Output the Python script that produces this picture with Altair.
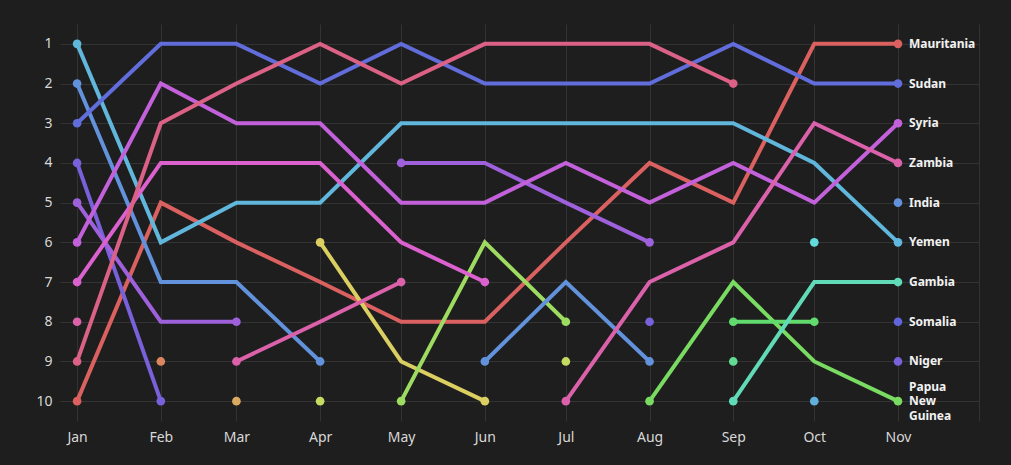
import altair as alt
import pandas as pd

N = None
months = ["2023-01-01", "2023-02-01", "2023-03-01", "2023-04-01", "2023-05-01",
          "2023-06-01", "2023-07-01", "2023-08-01", "2023-09-01", "2023-10-01",
          "2023-11-01"]
grid_months = months + ["2023-12-01"]

series_names = ["Mauritania", "Other A", "Other B", "Other C", "Other D", "Other E",
                "Papua New Guinea", "Other F", "Other G", "Gambia", "Other H",
                "Yemen", "Other I", "India", "Sudan", "Somalia", "Niger",
                "Other J", "Syria", "Other K", "Zambia", "Other L"]

ranks = {
    "Mauritania":       [10, 5, 6, 7, 8, 8, 6, 4, 5, 1, 1],
    "Other A":          [N, 9, N, N, N, N, N, N, N, N, N],
    "Other B":          [N, N, 10, N, N, N, N, N, N, N, N],
    "Other C":          [N, N, N, 6, 9, 10, N, N, N, N, N],
    "Other D":          [N, N, N, 10, N, N, 9, N, N, N, N],
    "Other E":          [N, N, N, N, 10, 6, 8, N, N, N, N],
    "Papua New Guinea": [N, N, N, N, N, N, N, 10, 7, 9, 10],
    "Other F":          [N, N, N, N, N, N, N, N, 8, 8, N],
    "Other G":          [N, N, N, N, N, N, N, N, 9, N, N],
    "Gambia":           [N, N, N, N, N, N, N, N, 10, 7, 7],
    "Other H":          [N, N, N, N, N, N, N, N, N, 6, N],
    "Yemen":            [1, 6, 5, 5, 3, 3, 3, 3, 3, 4, 6],
    "Other I":          [N, N, N, N, N, N, N, N, N, 10, N],
    "India":            [2, 7, 7, 9, N, 9, 7, 9, N, N, 5],
    "Sudan":            [3, 1, 1, 2, 1, 2, 2, 2, 1, 2, 2],
    "Somalia":          [N, N, N, N, N, N, N, N, N, N, 8],
    "Niger":            [4, 10, N, N, N, N, N, 8, N, N, 9],
    "Other J":          [5, 8, 8, N, 4, 4, 5, 6, N, N, N],
    "Syria":            [6, 2, 3, 3, 5, 5, 4, 5, 4, 5, 3],
    "Other K":          [7, 4, 4, 4, 6, 7, N, N, N, N, N],
    "Zambia":           [8, N, 9, 8, 7, N, 10, 7, 6, 3, 4],
    "Other L":          [9, 3, 2, 1, 2, 1, 1, 1, 2, N, N],
}

single_labels = ["Mauritania", "Sudan", "Syria", "Zambia", "India", "Yemen",
                 "Gambia", "Somalia", "Niger"]
wrapped_label = ("Papua New Guinea", "Papua\nNew\nGuinea")

# style: one hue per series
hues = [0, 18, 36, 54, 72, 90, 108, 126, 144, 162, 180, 198, 201, 216, 234, 238,
        252, 270, 288, 306, 324, 342]
colors = [f"hsl({h},63%,62%)" for h in hues]


def ms(s):
    return int(pd.Timestamp(s, tz="UTC").value // 10**6)


rows = []
for name in series_names:
    vals = ranks[name]
    run = 0
    for i, v in enumerate(vals):
        if v is None:
            continue
        prev_none = i == 0 or vals[i - 1] is None
        next_none = i == len(vals) - 1 or vals[i + 1] is None
        if prev_none:
            run += 1
        rows.append({"series": name, "run": f"{name}-{run}", "date": ms(months[i]),
                     "rank": v, "end": bool(prev_none or next_none)})
df = pd.DataFrame(rows)

ldf = pd.DataFrame([{"series": k, "label": k, "date": ms(months[-1]),
                     "rank": ranks[k][-1]} for k in single_labels])
wdf = pd.DataFrame([{"series": wrapped_label[0], "label": wrapped_label[1],
                     "date": ms(months[-1]), "rank": ranks[wrapped_label[0]][-1]}])

x_scale = alt.Scale(type="utc", domain=[ms("2022-12-25T16:00:00"), ms("2023-12-01")])
x_axis = alt.Axis(values=[ms(m) for m in grid_months],
                  labelExpr="utcmonth(datum.value) == 11 ? '' : utcFormat(datum.value, '%b')",
                  title=None, domain=False, ticks=False, labelPadding=9,
                  labelFontSize=14, labelColor="#d8d8d8", gridColor="#333333",
                  labelFont="Noto Sans")
y_scale = alt.Scale(domain=[0.5, 10.5], reverse=True, zero=False, nice=False)
y_axis = alt.Axis(values=list(range(1, 11)), title=None, domain=False, ticks=False,
                  labelPadding=8, labelFontSize=14, labelColor="#d8d8d8",
                  gridColor="#333333", labelFont="Noto Sans", format="d")
color = alt.Color("series:N", scale=alt.Scale(domain=series_names, range=colors),
                  legend=None)

base = alt.Chart(df)
lines = base.mark_line(strokeWidth=4, clip=True).encode(
    x=alt.X("date:T", scale=x_scale, axis=x_axis),
    y=alt.Y("rank:Q", scale=y_scale, axis=y_axis),
    color=color,
    detail="run:N",
)
points = base.transform_filter("datum.end").mark_point(
    filled=True, size=75, opacity=1, shape="circle").encode(
    x="date:T", y="rank:Q", color=color)

text_style = dict(align="left", baseline="middle", dx=11, fontSize=12,
                  fontWeight="bold", color="#f2f2f2", font="Noto Sans")
texts = alt.Chart(ldf).mark_text(**text_style).encode(
    x="date:T", y="rank:Q", text="label:N")
texts_wrapped = alt.Chart(wdf).mark_text(
    **text_style, dy=-14.5, lineBreak="\n", lineHeight=14.5).encode(
    x="date:T", y="rank:Q", text="label:N")

chart = alt.layer(lines, points, texts, texts_wrapped).properties(
    width=919, height=397,
    autosize=alt.AutoSizeParams(type="none"),
    padding={"left": 60, "top": 24, "right": 32, "bottom": 44},
    background="#1e1e1e",
).configure_view(stroke=None)

chart.save("out.html", embed_options={"renderer": "svg", "actions": False})
